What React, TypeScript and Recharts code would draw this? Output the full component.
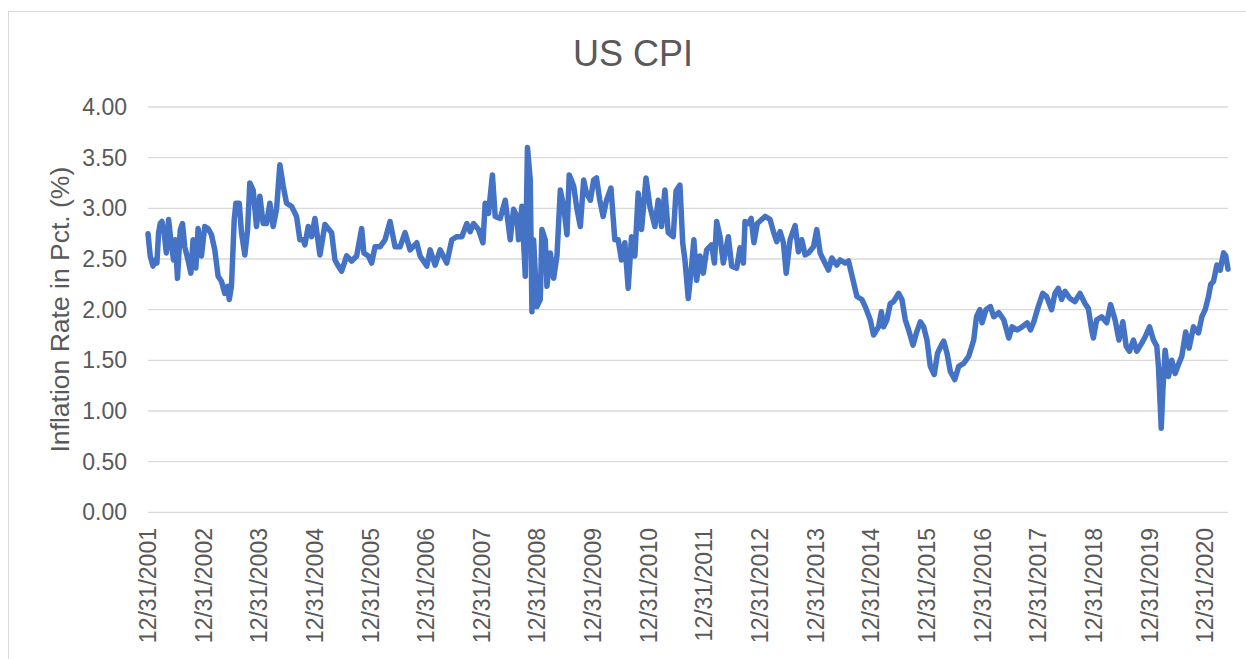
import React from 'react'
import { LineChart, Line, XAxis, YAxis, CartesianGrid } from 'recharts'

// time axis: years elapsed since 12/31/2001 (one entry per sampled point)
const yearsSinceStart = [
  0.00, 0.04, 0.09, 0.13, 0.16, 0.19, 0.22, 0.25, 0.29, 0.33, 0.37, 0.41, 0.46, 0.49, 0.53, 0.58, 0.62, 0.66, 0.72, 0.77,
  0.81, 0.86, 0.90, 0.96, 1.02, 1.08, 1.14, 1.20, 1.26, 1.32, 1.38, 1.43, 1.46, 1.50, 1.55, 1.58, 1.64, 1.68, 1.74, 1.79,
  1.83, 1.89, 1.95, 2.01, 2.07, 2.13, 2.19, 2.25, 2.31, 2.37, 2.43, 2.49, 2.58, 2.67, 2.73, 2.79, 2.82, 2.88, 2.94, 3.00,
  3.09, 3.18, 3.30, 3.36, 3.42, 3.48, 3.57, 3.66, 3.75, 3.84, 3.88, 3.96, 4.02, 4.08, 4.17, 4.26, 4.35, 4.44, 4.53, 4.62,
  4.71, 4.83, 4.89, 5.01, 5.07, 5.16, 5.25, 5.37, 5.46, 5.55, 5.64, 5.73, 5.79, 5.85, 5.94, 6.02, 6.06, 6.12, 6.19, 6.24,
  6.33, 6.42, 6.51, 6.57, 6.63, 6.66, 6.72, 6.78, 6.82, 6.87, 6.90, 6.93, 6.99, 7.05, 7.08, 7.14, 7.17, 7.23, 7.29, 7.35,
  7.41, 7.47, 7.53, 7.57, 7.65, 7.71, 7.77, 7.83, 7.88, 7.95, 8.01, 8.06, 8.12, 8.18, 8.24, 8.32, 8.39, 8.45, 8.51, 8.57,
  8.63, 8.69, 8.75, 8.81, 8.87, 8.95, 9.02, 9.11, 9.17, 9.23, 9.29, 9.35, 9.44, 9.49, 9.56, 9.61, 9.65, 9.71, 9.77, 9.81,
  9.86, 9.92, 9.98, 10.04, 10.13, 10.18, 10.22, 10.28, 10.34, 10.43, 10.49, 10.58, 10.64, 10.70, 10.73, 10.79, 10.84, 10.89, 10.95, 11.03,
  11.09, 11.18, 11.24, 11.30, 11.36, 11.42, 11.47, 11.54, 11.63, 11.69, 11.75, 11.81, 11.87, 11.96, 12.02, 12.08, 12.14, 12.23, 12.29, 12.38,
  12.44, 12.53, 12.59, 12.65, 12.74, 12.83, 12.89, 12.98, 13.04, 13.13, 13.18, 13.22, 13.28, 13.34, 13.40, 13.49, 13.55, 13.61, 13.67, 13.75,
  13.81, 13.88, 13.94, 14.00, 14.06, 14.13, 14.19, 14.25, 14.30, 14.36, 14.42, 14.50, 14.57, 14.66, 14.75, 14.84, 14.89, 14.95, 14.99, 15.06,
  15.14, 15.20, 15.29, 15.38, 15.47, 15.53, 15.62, 15.71, 15.80, 15.86, 15.92, 16.00, 16.08, 16.15, 16.24, 16.30, 16.36, 16.42, 16.48, 16.57,
  16.66, 16.75, 16.84, 16.90, 16.96, 16.99, 17.05, 17.14, 17.23, 17.30, 17.38, 17.45, 17.52, 17.58, 17.64, 17.71, 17.77, 17.86, 17.92, 18.00,
  18.07, 18.13, 18.16, 18.21, 18.24, 18.28, 18.34, 18.40, 18.46, 18.52, 18.58, 18.65, 18.71, 18.79, 18.88, 18.94, 19.00, 19.06, 19.10, 19.15,
  19.21, 19.27, 19.33, 19.37, 19.41,
]

// inflation rate in pct
const cpiRate = [
  2.75, 2.53, 2.43, 2.49, 2.46, 2.76, 2.85, 2.87, 2.76, 2.56, 2.89, 2.69, 2.49, 2.69, 2.31, 2.79, 2.85, 2.62, 2.49, 2.36,
  2.69, 2.41, 2.80, 2.53, 2.82, 2.80, 2.74, 2.59, 2.33, 2.28, 2.16, 2.23, 2.10, 2.23, 2.89, 3.05, 3.05, 2.76, 2.54, 2.79,
  3.25, 3.18, 2.82, 3.12, 2.85, 2.85, 3.05, 2.82, 2.99, 3.43, 3.22, 3.05, 3.02, 2.92, 2.69, 2.69, 2.64, 2.82, 2.72, 2.90,
  2.54, 2.84, 2.76, 2.49, 2.43, 2.38, 2.53, 2.48, 2.53, 2.80, 2.56, 2.53, 2.46, 2.62, 2.62, 2.69, 2.87, 2.62, 2.62, 2.76,
  2.59, 2.66, 2.53, 2.43, 2.59, 2.44, 2.59, 2.46, 2.69, 2.72, 2.72, 2.85, 2.77, 2.85, 2.79, 2.66, 3.05, 2.95, 3.33, 2.92,
  2.90, 3.08, 2.69, 2.99, 2.92, 2.69, 3.02, 2.33, 3.60, 3.28, 1.98, 2.69, 2.03, 2.10, 2.79, 2.69, 2.23, 2.56, 2.31, 2.53,
  3.18, 3.02, 2.74, 3.33, 3.22, 2.99, 2.82, 3.28, 3.15, 3.08, 3.28, 3.30, 3.08, 2.92, 3.08, 3.20, 2.69, 2.69, 2.49, 2.66,
  2.21, 2.72, 2.53, 3.15, 2.79, 3.30, 3.02, 2.82, 3.08, 2.82, 3.18, 2.76, 2.72, 3.17, 3.23, 2.66, 2.49, 2.11, 2.43, 2.69,
  2.29, 2.53, 2.36, 2.59, 2.64, 2.46, 2.87, 2.72, 2.46, 2.72, 2.43, 2.41, 2.61, 2.46, 2.87, 2.85, 2.90, 2.66, 2.85, 2.89,
  2.92, 2.89, 2.77, 2.67, 2.77, 2.66, 2.36, 2.69, 2.83, 2.57, 2.69, 2.54, 2.56, 2.62, 2.79, 2.56, 2.49, 2.39, 2.51, 2.44,
  2.49, 2.46, 2.48, 2.34, 2.13, 2.10, 2.03, 1.90, 1.75, 1.83, 1.98, 1.83, 1.90, 2.06, 2.08, 2.16, 2.10, 1.90, 1.80, 1.65,
  1.77, 1.88, 1.83, 1.70, 1.44, 1.36, 1.57, 1.64, 1.69, 1.57, 1.39, 1.31, 1.44, 1.47, 1.54, 1.70, 1.93, 2.00, 1.87, 2.00,
  2.03, 1.93, 1.97, 1.90, 1.72, 1.83, 1.80, 1.83, 1.87, 1.80, 1.88, 2.03, 2.16, 2.13, 2.00, 2.16, 2.21, 2.10, 2.18, 2.11,
  2.08, 2.16, 2.06, 2.01, 1.80, 1.72, 1.90, 1.93, 1.87, 2.05, 1.90, 1.70, 1.88, 1.64, 1.59, 1.70, 1.59, 1.67, 1.73, 1.83,
  1.70, 1.64, 1.44, 0.83, 1.21, 1.60, 1.34, 1.50, 1.37, 1.46, 1.54, 1.78, 1.62, 1.83, 1.77, 1.93, 2.00, 2.13, 2.25, 2.28,
  2.44, 2.39, 2.56, 2.53, 2.40,
]

const dateLabels = [
  '12/31/2001', '12/31/2002', '12/31/2003', '12/31/2004', '12/31/2005', '12/31/2006', '12/31/2007',
  '12/31/2008', '12/31/2009', '12/31/2010', '12/31/2011', '12/31/2012', '12/31/2013', '12/31/2014',
  '12/31/2015', '12/31/2016', '12/31/2017', '12/31/2018', '12/31/2019', '12/31/2020',
]

const yTicks = [0, 0.5, 1, 1.5, 2, 2.5, 3, 3.5, 4]

const data = yearsSinceStart.map((t, i) => ({ t, cpi: cpiRate[i] }))
const xTicks = dateLabels.map((_, i) => i)

const FONT = '"Liberation Sans", Arial, sans-serif'
const TEXT = '#595959'

function YTick(props: any) {
  const { x, y, payload } = props
  return (
    <text x={x} y={y} textAnchor="end" dominantBaseline="central" fill={TEXT} fontSize={23} fontFamily={FONT}>
      {Number(payload.value).toFixed(2)}
    </text>
  )
}

function XTick(props: any) {
  const { x, y, payload } = props
  return (
    <text
      x={x}
      y={y}
      transform={`rotate(-90 ${x} ${y})`}
      textAnchor="end"
      dominantBaseline="central"
      fill={TEXT}
      fontSize={23}
      fontFamily={FONT}
    >
      {dateLabels[payload.value]}
    </text>
  )
}

function YLabel(props: any) {
  const vb = props.viewBox
  const cx = vb.x + 51
  const cy = vb.y + vb.height / 2
  return (
    <text
      x={cx}
      y={cy}
      transform={`rotate(-90 ${cx} ${cy})`}
      textAnchor="middle"
      dominantBaseline="central"
      fill={TEXT}
      fontSize={26.5}
      fontFamily={FONT}
    >
      Inflation Rate in Pct. (%)
    </text>
  )
}

export default function App() {
  return (
    <div
      style={{
        position: 'absolute',
        left: 8,
        top: 11,
        width: 1238,
        height: 648,
        border: '1px solid #d9d9d9',
        background: '#fff',
      }}
    >
      <LineChart width={1238} height={648} data={data} margin={{ top: 95, right: 19, left: 0, bottom: 0 }}>
        <CartesianGrid vertical={false} stroke="#d9d9d9" strokeWidth={1.3} />
        <XAxis
          dataKey="t"
          type="number"
          domain={[0, 19.41]}
          ticks={xTicks}
          interval={0}
          height={147.7}
          axisLine={false}
          tickLine={false}
          tickSize={0}
          tickMargin={15.7}
          tick={(p: any) => <XTick {...p} />}
        />
        <YAxis
          type="number"
          domain={[0, 4]}
          ticks={yTicks}
          width={139}
          axisLine={false}
          tickLine={false}
          tickSize={0}
          tickMargin={21}
          tick={(p: any) => <YTick {...p} />}
          label={(p: any) => <YLabel {...p} />}
        />
        <Line
          type="linear"
          dataKey="cpi"
          stroke="#4472C4"
          strokeWidth={5.5}
          strokeLinejoin="round"
          strokeLinecap="round"
          dot={false}
          isAnimationActive={false}
        />
      </LineChart>
      <svg width={1238} height={648} style={{ position: 'absolute', left: 0, top: 0, pointerEvents: 'none' }}>
        <text x={624} y={54} textAnchor="middle" fill={TEXT} fontSize={36} fontFamily={FONT}>
          US CPI
        </text>
      </svg>
    </div>
  )
}
